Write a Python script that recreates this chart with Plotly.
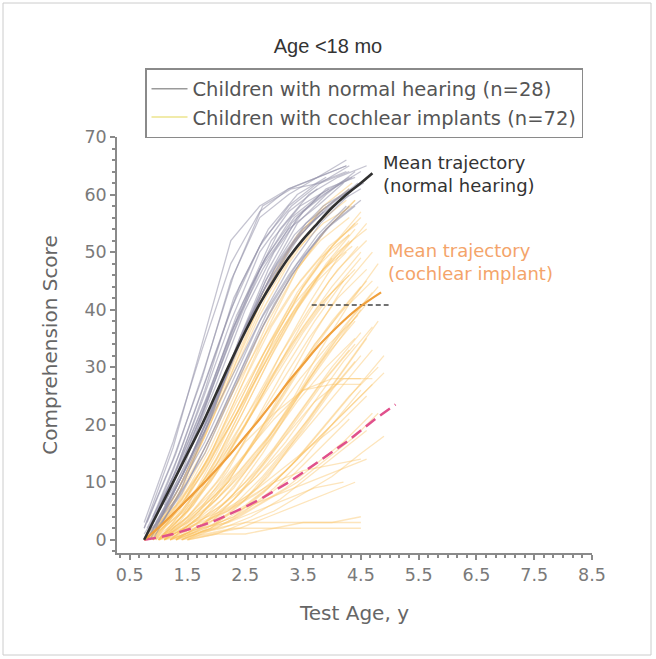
import plotly.graph_objects as go

# ---------------- data ----------------
title_text = "Age <18 mo"
nh_label = "Children with normal hearing (n=28)"
ci_label = "Children with cochlear implants (n=72)"

# Normal hearing individual trajectories (age in years, comprehension score)
nh_ages = [
    [0.75,1.25,1.75,2.25,2.75,3.25,3.75,4.25],
    [0.8,1.3,1.8,2.3,2.8,3.3,3.8,4.3],
    [0.9,1.4,1.9,2.4,2.9,3.4,3.9],
    [0.75,1.25,1.75,2.25,2.75,3.25,3.75,4.2],
    [1.0,1.5,2.0,2.5,3.0,3.5,4.0,4.5],
    [0.8,1.3,1.8,2.3,2.8,3.3,3.8,4.3],
    [0.85,1.35,1.85,2.35,2.85,3.35,3.85,4.35],
    [0.75,1.25,1.75,2.25,2.75,3.25,3.75],
    [0.9,1.4,1.9,2.4,2.9,3.4,3.9,4.4],
    [1.1,1.6,2.1,2.6,3.1,3.6,4.1,4.6],
    [0.8,1.3,1.8,2.3,2.8,3.3,3.8,4.3],
    [0.75,1.25,1.75,2.25,2.75,3.25,3.75,4.25],
    [0.95,1.45,1.95,2.45,2.95,3.45,3.95,4.45],
    [0.8,1.3,1.8,2.3,2.8,3.3,3.8,4.3],
    [0.85,1.35,1.85,2.35,2.85,3.35,3.85],
    [1.0,1.5,2.0,2.5,3.0,3.5,4.0,4.5],
    [0.75,1.25,1.75,2.25,2.75,3.25,3.75,4.25],
    [0.9,1.4,1.9,2.4,2.9,3.4,3.9,4.4],
    [0.8,1.3,1.8,2.3,2.8,3.3,3.8,4.3],
    [1.05,1.55,2.05,2.55,3.05,3.55,4.05,4.55],
    [0.75,1.25,1.75,2.25,2.75,3.25,3.75,4.25],
    [0.85,1.35,1.85,2.35,2.85,3.35,3.85,4.35],
    [0.95,1.45,1.95,2.45,2.95,3.45,3.95],
    [0.8,1.3,1.8,2.3,2.8,3.3,3.8,4.3],
    [1.0,1.5,2.0,2.5,3.0,3.5,4.0,4.5],
    [0.75,1.25,1.75,2.25,2.75,3.25,3.75,4.25],
    [0.9,1.4,1.9,2.4,2.9,3.4,3.9,4.4],
    [0.8,1.3,1.8,2.3,2.8,3.3,3.8],
]
nh_scores = [
    [2,14,28,45,56,60,63,66],
    [1,12,26,42,52,58,62,65],
    [4,16,30,44,54,60,63],
    [0,10,22,36,47,54,58,62],
    [5,15,27,40,50,57,61,64],
    [0,9,19,32,43,51,57,61],
    [2,13,25,39,49,56,60,63],
    [0,11,24,38,50,57,61],
    [1,8,18,29,40,48,54,58],
    [6,18,31,44,54,60,63,65],
    [3,15,30,46,58,61,62,64],
    [1,9,18,28,38,46,53,58],
    [3,12,23,35,45,53,58,62],
    [2,12,24,37,47,55,60,63],
    [0,10,21,33,44,52,57],
    [2,10,20,31,41,49,55,59],
    [3,17,33,48,57,61,63,65],
    [2,11,22,35,46,55,60,64],
    [1,7,15,26,37,46,53,58],
    [4,14,26,38,48,55,59,62],
    [0,12,26,40,51,58,62,64],
    [1,9,20,33,45,53,58,61],
    [2,13,27,41,52,58,61],
    [0,8,17,28,39,48,55,60],
    [3,13,25,37,47,54,58,61],
    [2,16,34,52,58,61,63,65],
    [0,9,21,35,47,56,61,63],
    [1,11,23,36,48,56,60],
]

# Cochlear implant individual trajectories
ci_ages = [
    [0.8,1.3,1.8,2.3,2.8,3.3,3.8,4.3],
    [0.9,1.4,1.9,2.4,2.9,3.4,3.9,4.4],
    [1.0,1.5,2.0,2.5,3.0,3.5,4.0,4.5],
    [0.85,1.35,1.85,2.35,2.85,3.35,3.85,4.35],
    [1.1,1.6,2.1,2.6,3.1,3.6,4.1,4.6],
    [0.9,1.4,1.9,2.4,2.9,3.4,3.9,4.4],
    [1.2,1.7,2.2,2.7,3.2,3.7,4.2,4.7],
    [0.8,1.3,1.8,2.3,2.8,3.3,3.8,4.3],
    [1.0,1.5,2.0,2.5,3.0,3.5,4.0,4.5],
    [1.3,1.8,2.3,2.8,3.3,3.8,4.3,4.8],
    [0.9,1.4,1.9,2.4,2.9,3.4,3.9,4.4],
    [1.1,1.6,2.1,2.6,3.1,3.6,4.1,4.6],
    [0.75,1.25,1.75,2.25,2.75,3.25,3.75,4.25],
    [1.4,1.9,2.4,2.9,3.4,3.9,4.4],
    [1.0,1.5,2.0,2.5,3.0,3.5,4.0,4.5],
    [0.95,1.45,1.95,2.45,2.95,3.45,3.95,4.45],
    [1.2,1.7,2.2,2.7,3.2,3.7,4.2,4.7],
    [0.8,1.3,1.8,2.3,2.8,3.3,3.8,4.3],
    [1.5,2.0,2.5,3.0,3.5,4.0,4.5],
    [1.1,1.6,2.1,2.6,3.1,3.6,4.1,4.6],
    [0.9,1.4,1.9,2.4,2.9,3.4,3.9,4.4],
    [1.3,1.8,2.3,2.8,3.3,3.8,4.3],
    [1.0,1.5,2.0,2.5,3.0,3.5,4.0,4.5],
    [1.2,1.7,2.2,2.7,3.2,3.7,4.2,4.7],
    [0.85,1.35,1.85,2.35,2.85,3.35,3.85,4.35],
    [1.4,1.9,2.4,2.9,3.4,3.9,4.4,4.9],
    [1.0,1.5,2.0,2.5,3.0,3.5,4.0,4.5],
    [1.5,2.0,2.5,3.0,3.5,4.0,4.5],
    [1.3,1.8,2.3,2.8,3.3,3.8,4.3,4.5],
    [1.1,1.6,2.1,2.6,3.1,3.6,4.1,4.6],
    [0.9,1.4,1.9,2.4,2.9,3.4,3.9,4.4],
    [1.2,1.7,2.2,2.7,3.2,3.7,4.2,4.7],
    [1.0,1.5,2.0,2.5,3.0,3.5,4.0,4.5],
    [0.8,1.3,1.8,2.3,2.8,3.3,3.8,4.3],
    [1.4,1.9,2.4,2.9,3.4,3.9,4.4],
    [1.1,1.6,2.1,2.6,3.1,3.6,4.1,4.6],
    [0.95,1.45,1.95,2.45,2.95,3.45,3.95,4.45],
    [1.2,1.7,2.2,2.7,3.2,3.7,4.2],
    [1.0,1.5,2.0,2.5,3.0,3.5,4.0,4.5],
    [1.3,1.8,2.3,2.8,3.3,3.8,4.3,4.8],
    [0.9,1.4,1.9,2.4,2.9,3.4,3.9],
    [1.5,2.0,2.5,3.0,3.5,4.0,4.5,4.9],
    [1.1,1.6,2.1,2.6,3.1,3.6,4.1,4.6],
    [0.8,1.3,1.8,2.3,2.8,3.3,3.8,4.3],
    [1.2,1.7,2.2,2.7,3.2,3.7,4.2,4.7],
    [1.0,1.5,2.0,2.5,3.0,3.5,4.0,4.5],
    [1.4,1.9,2.4,2.9,3.4,3.9,4.4],
    [0.85,1.35,1.85,2.35,2.85,3.35,3.85,4.35],
    [1.1,1.6,2.1,2.6,3.1,3.6,4.1,4.6],
    [1.3,1.8,2.3,2.8,3.3,3.8,4.3],
    [0.9,1.4,1.9,2.4,2.9,3.4,3.9,4.4],
    [1.0,1.5,2.0,2.5,3.0,3.5,4.0,4.5],
    [1.2,1.7,2.2,2.7,3.2,3.7,4.2,4.7],
    [0.75,1.25,1.75,2.25,2.75,3.25,3.75,4.25],
    [1.5,2.0,2.5,3.0,3.5,4.0,4.5],
    [1.1,1.6,2.1,2.6,3.1,3.6,4.1,4.6],
    [0.95,1.45,1.95,2.45,2.95,3.45,3.95,4.45],
    [1.3,1.8,2.3,2.8,3.3,3.8,4.3,4.8],
    [1.0,1.5,2.0,2.5,3.0,3.5,4.0],
    [1.2,1.7,2.2,2.7,3.2,3.7,4.2,4.7],
    [0.8,1.3,1.8,2.3,2.8,3.3,3.8,4.3],
    [1.4,1.9,2.4,2.9,3.4,3.9,4.4,4.8],
    [1.0,1.5,2.0,2.5,3.0,3.5,4.0,4.5],
    [1.1,1.6,2.1,2.6,3.1,3.6,4.1,4.6],
    [0.9,1.4,1.9,2.4,2.9,3.4,3.9,4.4],
    [1.3,1.8,2.3,2.8,3.3,3.8,4.3,4.8],
    [1.2,1.7,2.2,2.7,3.2,3.7,4.2],
    [1.0,1.5,2.0,2.5,3.0,3.5,4.0,4.5],
    [1.5,2.0,2.5,3.0,3.5,4.0,4.5,4.9],
    [0.85,1.35,1.85,2.35,2.85,3.35,3.85,4.35],
    [1.1,1.6,2.1,2.6,3.1,3.6,4.1,4.6],
    [1.2,1.7,2.2,2.7,3.2,3.7,4.2,4.7],
]
ci_scores = [
    [0,8,18,30,42,51,57,61],
    [1,7,16,27,38,47,54,59],
    [0,6,14,24,35,44,51,56],
    [0,9,20,32,43,52,58,62],
    [1,6,13,22,32,41,49,55],
    [0,5,12,21,31,40,48,54],
    [0,4,10,18,27,36,44,50],
    [0,6,15,26,37,46,52,56],
    [2,7,13,20,28,36,43,49],
    [0,3,8,15,23,31,38,44],
    [0,4,10,18,27,35,42,47],
    [0,3,7,13,20,28,35,41],
    [0,7,17,28,39,48,55,59],
    [0,3,8,14,21,28,34],
    [0,2,5,10,16,23,30,36],
    [1,5,11,19,28,37,45,51],
    [0,2,6,11,17,24,31,37],
    [0,5,12,21,30,39,46,52],
    [0,3,7,13,19,26,32],
    [0,4,9,16,24,32,39,45],
    [0,6,14,24,34,43,50,55],
    [0,2,4,7,11,16,21],
    [0,1,3,6,10,15,20,26],
    [1,3,5,8,12,17,22,27],
    [0,8,19,31,42,50,55,58],
    [0,2,5,9,14,20,26,32],
    [0,3,8,15,23,31,38,44],
    [1,2,3,3,3,3,3],
    [0,1,2,2,2,2,2,2],
    [0,2,4,6,8,10,12,14],
    [0,3,7,12,18,25,32,38],
    [0,3,7,12,18,24,28,28],
    [0,4,10,17,22,26,27,27],
    [0,4,10,18,26,34,41,46],
    [0,1,2,4,6,8,10],
    [0,1,2,4,7,11,15,19],
    [0,7,16,27,37,45,51,55],
    [1,5,12,21,30,38,45],
    [0,5,12,20,29,37,44,50],
    [0,4,9,16,24,33,41,48],
    [0,9,21,34,45,53,58],
    [0,1,3,5,8,11,15,18],
    [0,5,11,19,27,35,42,47],
    [1,6,13,22,32,41,48,53],
    [0,2,5,9,15,21,27,33],
    [0,4,9,15,21,26,28,28],
    [0,2,6,11,18,25,31],
    [0,5,13,22,32,40,47,52],
    [0,3,6,10,15,21,28,35],
    [0,3,7,13,20,27,33],
    [0,6,15,26,37,47,54,59],
    [0,2,4,7,10,12,13,14],
    [0,4,10,18,26,34,40,45],
    [0,5,12,20,29,38,45,50],
    [0,1,1,2,3,3,4],
    [0,6,14,23,32,40,47,52],
    [0,3,8,14,21,28,34,39],
    [0,2,4,8,13,19,25,30],
    [0,5,13,23,33,42,49],
    [0,1,3,6,9,13,17,22],
    [0,7,16,26,35,43,49,53],
    [0,2,4,7,10,14,18,22],
    [0,3,7,13,19,26,33,40],
    [0,7,16,26,36,44,50,54],
    [0,2,6,11,17,24,30,35],
    [0,3,6,11,17,24,31,38],
    [0,2,3,5,7,9,10],
    [0,6,15,25,35,44,51,57],
    [0,2,5,9,14,20,25,29],
    [0,6,14,24,33,41,47,51],
    [0,3,5,8,12,16,20,25],
    [0,4,9,15,22,30,37,43],
]

# Mean trajectories
nh_mean_age = [0.75,1.0,1.25,1.5,1.75,2.0,2.25,2.5,2.75,3.0,3.25,3.5,3.75,4.0,4.25,4.5,4.7]
nh_mean_score = [0,5,10,15,20,25.5,31,36.2,41,45.2,49,52.2,55,57.7,60,62,63.7]
ci_mean_age = [0.75,1.0,1.25,1.5,1.75,2.0,2.25,2.5,2.75,3.0,3.25,3.5,3.75,4.0,4.25,4.5,4.85]
ci_mean_score = [0,2.1,4.5,7,9.5,12.2,15,18,21,24.2,27.5,30.5,33.5,36.1,38.5,40.6,43]
# Pink dashed reference curve
ref_age = [0.75,1.0,1.25,1.5,1.75,2.0,2.25,2.5,2.75,3.0,3.25,3.5,3.75,4.0,4.25,4.5,4.75,5.1]
ref_score = [0,0.4,1,1.7,2.5,3.4,4.5,5.7,7,8.5,10,11.7,13.5,15.2,17,19,21,23.5]
# Black dashed horizontal reference
hline_age = [3.65, 4.98]
hline_score = [40.8, 40.8]

x_tick_vals = [0.5,1.5,2.5,3.5,4.5,5.5,6.5,7.5,8.5]
x_tick_text = ["0.5","1.5","2.5","3.5","4.5","5.5","6.5","7.5","8.5"]
y_tick_vals = [0,10,20,30,40,50,60,70]

# ---------------- figure ----------------
FONT = "DejaVu Sans, Liberation Sans, Arial, sans-serif"
fig = go.Figure()

NH_COLOR = "rgba(148,146,170,0.55)"
CI_COLOR = "rgba(250,192,95,0.42)"

for a, s in zip(ci_ages, ci_scores):
    fig.add_trace(go.Scatter(x=a, y=s, mode="lines", line=dict(color=CI_COLOR, width=1.3),
                             showlegend=False, hoverinfo="skip"))
for a, s in zip(nh_ages, nh_scores):
    fig.add_trace(go.Scatter(x=a, y=s, mode="lines", line=dict(color=NH_COLOR, width=1.3),
                             showlegend=False, hoverinfo="skip"))

fig.add_trace(go.Scatter(x=ref_age, y=ref_score, mode="lines", showlegend=False,
                         line=dict(color="#e0508c", width=2.5, dash="12px,6px")))
fig.add_trace(go.Scatter(x=hline_age, y=hline_score, mode="lines", showlegend=False,
                         line=dict(color="#444444", width=1.6, dash="5px,3px")))
fig.add_trace(go.Scatter(x=ci_mean_age, y=ci_mean_score, mode="lines", showlegend=False,
                         line=dict(color="#f0a03c", width=2.2, shape="spline")))
fig.add_trace(go.Scatter(x=nh_mean_age, y=nh_mean_score, mode="lines", showlegend=False,
                         line=dict(color="#303030", width=2.6, shape="spline")))

# legend entries
fig.add_trace(go.Scatter(x=[None], y=[None], mode="lines", name=nh_label,
                         line=dict(color="#9a9a9a", width=1.5)))
fig.add_trace(go.Scatter(x=[None], y=[None], mode="lines", name=ci_label,
                         line=dict(color="#ece48e", width=1.5)))

fig.add_annotation(x=4.85, y=67.8, xref="x", yref="y", xanchor="left", yanchor="top",
                   text="Mean trajectory<br>(normal hearing)", showarrow=False, align="left",
                   font=dict(size=18, color="#333333", family=FONT))
fig.add_annotation(x=4.93, y=52.5, xref="x", yref="y", xanchor="left", yanchor="top",
                   text="Mean trajectory<br>(cochlear implant)", showarrow=False, align="left",
                   font=dict(size=18, color="#f4a46a", family=FONT))

axis_common = dict(showgrid=False, zeroline=False, showline=True, linecolor="#8a8a8a",
                   linewidth=1.5, ticks="outside", ticklen=5, tickwidth=1.5, tickcolor="#8a8a8a",
                   tickfont=dict(size=17.5, color="#7a7a7a", family=FONT))

fig.update_layout(
    width=656, height=659,
    paper_bgcolor="white", plot_bgcolor="white",
    font=dict(family=FONT),
    margin=dict(l=117, r=64, t=137, b=106),
    title=dict(text=title_text, x=0.5, xanchor="center", y=1 - 46 / 659, yanchor="middle",
               font=dict(size=20, color="#333333", family="Liberation Sans, Arial, sans-serif")),
    xaxis=dict(range=[0.28, 8.5], tickvals=x_tick_vals, ticktext=x_tick_text,
               title=dict(text="Test Age, y", font=dict(size=20, color="#666666"), standoff=22),
               minor=dict(ticks="outside", dtick=1/6, tick0=0.5, ticklen=3, tickcolor="#8a8a8a",
                          tickwidth=1.5),
               **axis_common),
    yaxis=dict(range=[-2.3, 70], tickvals=y_tick_vals,
               title=dict(text="Comprehension Score", font=dict(size=20, color="#666666"), standoff=21),
               minor=dict(ticks="outside", dtick=2, tick0=0, ticklen=3, tickcolor="#8a8a8a",
                          tickwidth=1.5),
               **axis_common),
    legend=dict(x=(145 - 117) / 475, y=1 + (137 - 68) / 416, xanchor="left", yanchor="top",
                bordercolor="#8a8a8a", borderwidth=1.5, bgcolor="white",
                font=dict(size=19.5, color="#555555"), itemwidth=36, tracegroupgap=0),
    shapes=[dict(type="rect", xref="paper", yref="paper",
                 x0=(3 - 117) / 475, x1=(651 - 117) / 475,
                 y0=(553 - 655) / 416, y1=(553 - 3) / 416,
                 line=dict(color="#cccccc", width=1), fillcolor="rgba(0,0,0,0)", layer="below")],
)

fig.write_html("out.html")
